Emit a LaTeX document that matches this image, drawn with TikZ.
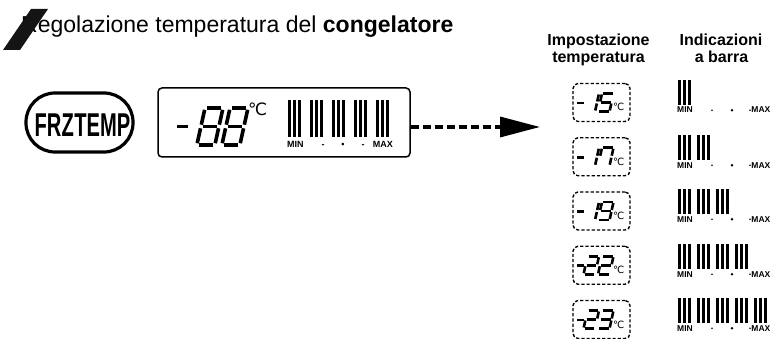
\documentclass[tikz,border=0pt]{standalone}
\usepackage{fontspec}
\setmainfont{Liberation Sans}
\newfontfamily\djvfont{DejaVu Sans}
\usetikzlibrary{arrows.meta}
\newcommand\dgdraw[6]{%
  \begin{scope}[shift={(#1,#2)},xslant=0.22]
    \def\dgw{#3}\def\dgh{#4}%
    \expandafter\dgparse#5\relax{#6}%
  \end{scope}}
\def\dgparse#1#2#3#4#5#6#7\relax#8{%
  \ifnum#1=1 \draw[#8] (\dgg,0) -- (\dgw-\dgg,0);\fi
  \ifnum#2=1 \draw[#8] (\dgw,\dgg) -- (\dgw,\dgh/2-\dgg);\fi
  \ifnum#3=1 \draw[#8] (\dgw,\dgh/2+\dgg) -- (\dgw,\dgh-\dgg);\fi
  \ifnum#4=1 \draw[#8] (\dgg,\dgh) -- (\dgw-\dgg,\dgh);\fi
  \ifnum#5=1 \draw[#8] (0,\dgh/2+\dgg) -- (0,\dgh-\dgg);\fi
  \ifnum#6=1 \draw[#8] (0,\dgg) -- (0,\dgh/2-\dgg);\fi
  \ifnum#7=1 \draw[#8] (\dgg,\dgh/2) -- (\dgw-\dgg,\dgh/2);\fi}
\begin{document}
\begin{tikzpicture}[x=1pt,y=-1pt,
  lcdseg/.style={line width=3.6pt},
  boxseg/.style={line width=2.6pt},
  dbox/.style={draw,dash pattern=on 3.2pt off 2pt,line width=1.4pt,rounded corners=5pt,
    minimum width=57pt,minimum height=38pt,inner sep=0pt},
  lab/.style={inner sep=0pt,font=\bfseries\fontsize{8.5}{8.5}\selectfont},
  lcdlab/.style={inner sep=0pt,font=\bfseries\fontsize{9}{9}\selectfont},
  head/.style={inner sep=0pt,anchor=base,font=\bfseries\fontsize{16}{16}\selectfont}]
\useasboundingbox (0,0) rectangle (770,339);
% title
\node[anchor=base west,inner sep=0pt,font=\fontsize{23}{23}\selectfont] (title) at (21,33)
  {Regolazione temperatura del \textbf{congelatore}};
\fill[black!92] (3,50) -- (20,50) -- (48,9) -- (31,9) -- cycle;
% FRZ TEMP button
\node[draw,line width=3.2pt,rounded corners=29pt,minimum width=107pt,minimum height=59pt,inner sep=0pt]
  (frz) at (79.5,122.5) {};
\node[inner sep=0pt] (frztext) at (82.5,125)
  {\scalebox{0.61}[1]{\fontsize{33}{33}\bfseries FRZ\kern1pt TEMP}};
% LCD
\node[draw,line width=1.5pt,rounded corners=4pt,minimum width=252pt,minimum height=69pt,inner sep=0pt]
  (lcd) at (284,122.5) {};
\def\dgg{1.8}
\draw[lcdseg] (177,126.5) -- (188,126.5);
\dgdraw{205}{108}{18}{37}{1111111}{lcdseg}
\dgdraw{230}{108}{18}{37}{1111111}{lcdseg}
\node[anchor=base west,inner sep=0pt,font=\djvfont\fontsize{17}{17}\selectfont] (lcddeg) at (248,116) {℃};
\foreach \g in {0,...,4}
  \foreach \k in {0,1,2}
    \fill (288+22*\g+5*\k,100) rectangle ++(3,37);
\node[lcdlab,anchor=base west] (lmin) at (287,148) {MIN};
\node[lcdlab,anchor=base] (ld1) at (323,148) {-};
\node[lcdlab,anchor=base] (ld2) at (343,148) {•};
\node[lcdlab,anchor=base] (ld3) at (363,148) {-};
\node[lcdlab,anchor=base east] (lmax) at (393,148) {MAX};
% arrow
\coordinate (tip) at (540,127);
\draw[line width=3.4pt,dash pattern=on 8pt off 4pt,-{Triangle[length=40pt,width=20pt]}]
  (lcd.east |- tip) -- (tip);
% headers
\node[head] (h1a) at (598.5,46) {Impostazione};
\node[head] (h1b) at (598.5,63) {temperatura};
\node[head] (h2a) at (721,46) {Indicazioni};
\node[head] (h2b) at (721.5,63) {a barra};
% rows
\def\dgg{1}
\foreach \r/\da/\db in {0/0110000/1011011,1/0110000/1110010,2/0110000/1111011,3/1101101/1101101,4/1101101/1111001}{
  \pgfmathsetmacro\cy{102.5+54.25*\r}
  \pgfmathsetmacro\by{round(80+54.5*\r)}
  \pgfmathsetmacro\ly{\by+33}
  \node[dbox] (box\r) at (601.5,\cy) {};
  \draw[boxseg] (577,\cy+0.5) -- (584,\cy+0.5);
  \dgdraw{587.5}{\cy-9}{11.5}{18}{\da}{boxseg}
  \dgdraw{602}{\cy-9}{11.5}{18}{\db}{boxseg}
  \node[anchor=base west,inner sep=0pt,font=\djvfont\fontsize{10}{10}\selectfont] (deg\r) at (613,\cy+8.5) {℃};
  \foreach \g in {0,...,\r}
    \foreach \k in {0,1,2}
      \fill (678+19*\g+5*\k,\by) rectangle ++(3,25);
  \node[lab,anchor=base west] (min\r) at (677,\ly) {MIN};
  \node[lab,anchor=base east] (max\r) at (770.5,\ly) {MAX};
  \fill (712,\ly-2.8) circle (0.9);
  \fill (732,\ly-2.8) circle (1.4);
  \fill (750,\ly-2.8) circle (0.9);
}
\end{tikzpicture}
\end{document}
